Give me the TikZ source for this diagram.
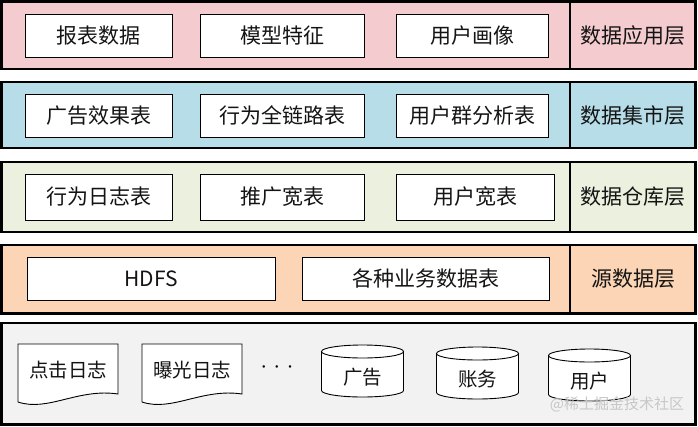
\documentclass[tikz,border=0pt]{standalone}
\usepackage{fontspec}
\setmainfont{Noto Sans CJK SC}
\usepackage{xcolor}
\usepackage{tikz}
\usetikzlibrary{positioning,calc}

\definecolor{apppink}{HTML}{F4CCD0}
\definecolor{martblue}{HTML}{B7DDE8}
\definecolor{dwgreen}{HTML}{EBF1DE}
\definecolor{srcorange}{HTML}{FBD5B5}
\definecolor{rawgray}{HTML}{F2F2F2}

\tikzset{
    layer/.style={line width=2.5pt},
    item/.style={line width=0.9pt, fill=white},
    txt/.style={font=\fontsize{21}{24}\selectfont, inner sep=0pt, text=black!92},
    small/.style={font=\fontsize{19.5}{22}\selectfont, inner sep=0pt, text=black!92},
}

\begin{document}
\begin{tikzpicture}[x=1pt,y=-1pt]
    \useasboundingbox (0,0) rectangle (698,426);

    % 数据应用层
    \draw [layer, fill=apppink] (1.5,1.5) rectangle (695.5,69); \draw [layer] (570,1.5) -- (570,69);
    \node [txt] (app) at (633,35.5) {数据应用层};
    \draw [item] (25,14) rectangle (172,57); \node [txt] (report) at (98.5,35.5) {报表数据};
    \draw [item] (200,14) rectangle (364,57); \node [txt] (model) at (282,35.5) {模型特征};
    \draw [item] (396,14) rectangle (548,57); \node [txt] (profile) at (472,35.5) {用户画像};

    % 数据集市层
    \draw [layer, fill=martblue] (1.5,82) rectangle (695.5,148); \draw [layer] (570,82) -- (570,148);
    \node [txt] (mart) at (633,115.5) {数据集市层};
    \draw [item] (25,94) rectangle (172,137); \node [txt] (adeffect) at (98.5,115.5) {广告效果表};
    \draw [item] (200,94) rectangle (364,137); \node [txt] (fullpath) at (282,115.5) {行为全链路表};
    \draw [item] (396,94) rectangle (548,137); \node [txt] (group) at (472,115.5) {用户群分析表};

    % 数据仓库层
    \draw [layer, fill=dwgreen] (1.5,162) rectangle (695.5,232); \draw [layer] (570,162) -- (570,232);
    \node [txt] (dw) at (633,197) {数据仓库层};
    \draw [item] (25,174) rectangle (172,220); \node [txt] (actlog) at (98.5,197) {行为日志表};
    \draw [item] (200,174) rectangle (364,220); \node [txt] (promo) at (282,197) {推广宽表};
    \draw [item] (396,174) rectangle (554,220); \node [txt] (userwide) at (475,197) {用户宽表};

    % 源数据层
    \draw [layer, fill=srcorange] (1.5,245) rectangle (695.5,313.5); \draw [layer] (570,245) -- (570,313.5);
    \node [txt] (src) at (633,279) {源数据层};
    \draw [item] (27,257) rectangle (275,300); \node [txt] (hdfs) at (151,278.5) {HDFS};
    \draw [item] (302,257) rectangle (549,300); \node [txt] (biz) at (425.5,278.5) {各种业务数据表};

    % 原始数据
    \draw [layer, fill=rawgray] (1.5,323) rectangle (695.5,424.5);
    \foreach \x/\t/\n in {18/点击日志/click, 142/曝光日志/expose} {
        \draw [item] (\x,344) -- (\x+100,344) -- (\x+100,394) .. controls (\x+60,388) and (\x+30,412) .. (\x,402) -- cycle;
        \node [small] (\n) at (\x+50,370) {\t};
    }
    \node [font=\fontsize{12}{12}\selectfont, inner sep=0pt] (more) at (277,369) {\textbullet\hspace{1.2pt}\textbullet\hspace{1.2pt}\textbullet};
    \foreach \x/\y/\t/\n in {362.5/371/广告/ad, 477.5/373/账务/bill, 589.5/375/用户/user} {
        \draw [item] (\x-41,\y-19.5) -- (\x-41,\y+19.5) arc [start angle=180, end angle=0, x radius=41, y radius=6.5] -- (\x+41,\y-19.5);
        \draw [item] (\x,\y-19.5) ellipse [x radius=41, y radius=6.5];
        \node [small] (\n) at (\x,\y+6) {\t};
    }
    \node [text=black!22, font=\fontsize{15}{18}\selectfont, inner sep=0pt] (mark) at (617,404) {@稀土掘金技术社区};
\end{tikzpicture}
\end{document}
